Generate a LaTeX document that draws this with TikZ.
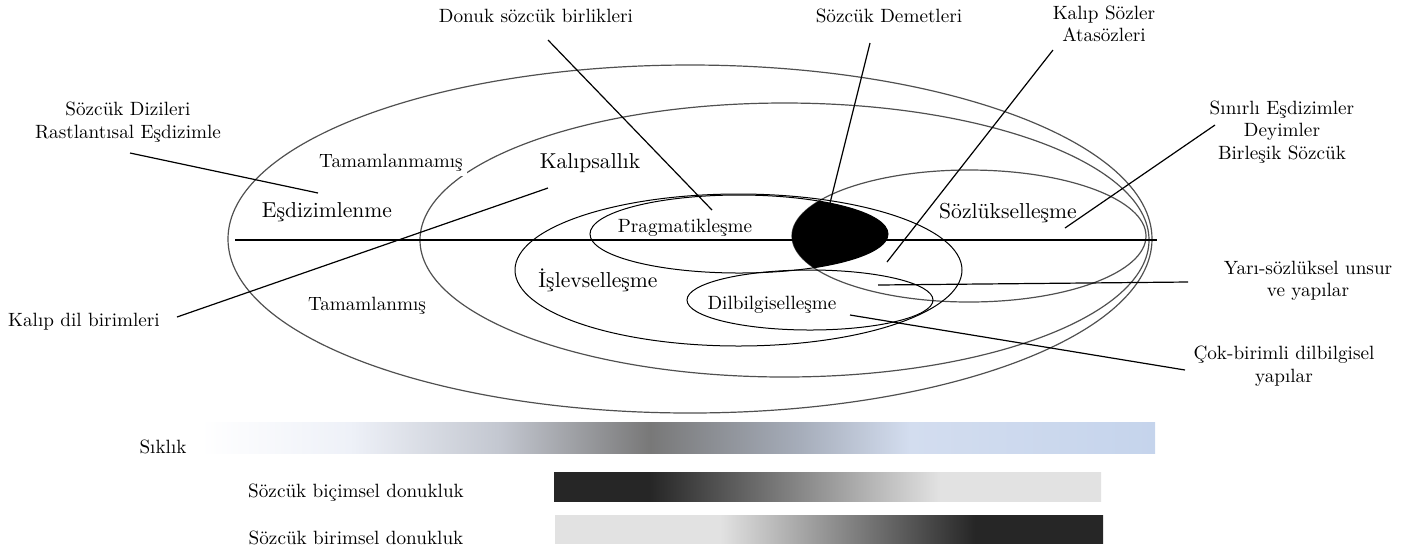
\documentclass[tikz,border=0pt]{standalone}
\definecolor{ellgray}{HTML}{505050}
\definecolor{sA}{HTML}{EEF1F8}
\definecolor{sB}{HTML}{C3C7D0}
\definecolor{sC}{HTML}{787878}
\definecolor{sD}{HTML}{A6ADBA}
\definecolor{sE}{HTML}{D3DDEF}
\definecolor{sF}{HTML}{C5D4EC}
\definecolor{dk}{HTML}{262626}
\definecolor{lt}{HTML}{E2E2E2}
\pgfdeclarehorizontalshading{siklik}{100bp}{color(0bp)=(white); color(25bp)=(white); color(32.85bp)=(sA); color(40.71bp)=(sB); color(48.56bp)=(sC); color(56.41bp)=(sD); color(62.17bp)=(sE); color(75bp)=(sF); color(100bp)=(sF)}
\pgfdeclarehorizontalshading{bicim}{100bp}{color(0bp)=(dk); color(25bp)=(dk); color(33.77bp)=(dk); color(60.28bp)=(lt); color(75bp)=(lt); color(100bp)=(lt)}
\pgfdeclarehorizontalshading{birim}{100bp}{color(0bp)=(lt); color(25bp)=(lt); color(40.05bp)=(lt); color(63.32bp)=(dk); color(75bp)=(dk); color(100bp)=(dk)}
\tikzset{
  lbl/.style={inner sep=0pt, align=center, font=\fontsize{9.6}{11.2}\selectfont},
  biglbl/.style={inner sep=0pt, align=center, font=\fontsize{10.8}{13}\selectfont},
  ell/.style={draw=ellgray, line width=0.6pt},
  inell/.style={draw=black, line width=0.5pt},
  leader/.style={draw=black, line width=0.6pt},
  axisline/.style={draw=black, line width=0.85pt}
}
\begin{document}
\begin{tikzpicture}[x=0.5pt,y=-0.5pt]
\useasboundingbox (0,0) rectangle (1405,554);
% ellipses
\draw[ell] (690,239) ellipse [x radius=462, y radius=174];
\draw[ell] (784.5,240) ellipse [x radius=364.5, y radius=137];
\draw[ell] (969,236) ellipse [x radius=177, y radius=66];
\draw[inell] (738.5,270) ellipse [x radius=223.5, y radius=76];
\draw[inell] (810,300) ellipse [x radius=123, y radius=30];
\begin{scope}
  \clip (739,234) ellipse [x radius=149, y radius=39];
  \fill[black] (969,236) ellipse [x radius=177, y radius=66];
\end{scope}
\draw[inell] (739,234) ellipse [x radius=149, y radius=39];
% horizontal axis
\coordinate (hL) at (235,240);
\coordinate (hR) at (1157,240);
\draw[axisline] (hL) -- (hR);
% labels
\node[lbl] (diz) at (128,122) {Sözcük Dizileri\\Rastlantısal Eşdizimle};
\node[lbl] (donuk) at (536,16) {Donuk sözcük birlikleri};
\node[lbl] (demet) at (889,16) {Sözcük Demetleri};
\node[lbl] (kalipsoz) at (1104,24) {Kalıp Sözler\\Atasözleri};
\node[lbl] (sinirli) at (1282,132) {Sınırlı Eşdizimler\\Deyimler\\Birleşik Sözcük};
\node[lbl, fill=white, inner sep=2pt] (tmm) at (391,163) {Tamamlanmamış};
\node[biglbl] (kalipsallik) at (590,163) {Kalıpsallık};
\node[biglbl] (esdiz) at (327,212) {Eşdizimlenme};
\node[biglbl] (sozluk) at (1008,213) {Sözlükselleşme};
\node[lbl] (prag) at (685,228) {Pragmatikleşme};
\node[biglbl] (islev) at (598,280) {İşlevselleşme};
\node[lbl] (dilbil) at (772,305) {Dilbilgiselleşme};
\node[lbl] (tamam) at (367,306) {Tamamlanmış};
\node[lbl] (kalipdil) at (84,322) {Kalıp dil birimleri};
\node[lbl] (yari) at (1308,281) {Yarı-sözlüksel unsur\\ve yapılar};
\node[lbl] (cok) at (1284,366) {Çok-birimli dilbilgisel\\yapılar};
\node[lbl] (siklik) at (163,447) {Sıklık};
\node[lbl] (bicim) at (356,493) {Sözcük biçimsel donukluk};
\node[lbl] (birim) at (356,538) {Sözcük birimsel donukluk};
% leader end points
\coordinate (dizA) at (130,153);  \coordinate (dizB) at (318,193);
\coordinate (kdA) at (177,317);   \coordinate (kdB) at (548,188);
\coordinate (donA) at (548,40);   \coordinate (donB) at (712,210);
\coordinate (demA) at (870,43);   \coordinate (demB) at (830,203);
\coordinate (ksA) at (1053,50);   \coordinate (ksB) at (887,262);
\coordinate (snA) at (1215,125);  \coordinate (snB) at (1065,228);
\coordinate (yrA) at (1188,282);  \coordinate (yrB) at (878,285);
\coordinate (ckA) at (1185,370);  \coordinate (ckB) at (850,315);
\draw[leader] (dizA) -- (dizB);
\draw[leader] (kdA) -- (kdB);
\draw[leader] (donA) -- (donB);
\draw[leader] (demA) -- (demB);
\draw[leader] (ksA) -- (ksB);
\draw[leader] (snA) -- (snB);
\draw[leader] (yrA) -- (yrB);
\draw[leader] (ckA) -- (ckB);
% bars
\shade[shading=siklik] (200,422) rectangle (1155,453);
\shade[shading=bicim] (554,472) rectangle (1101,501);
\shade[shading=birim] (555,515) rectangle (1103,543);
\end{tikzpicture}
\end{document}
